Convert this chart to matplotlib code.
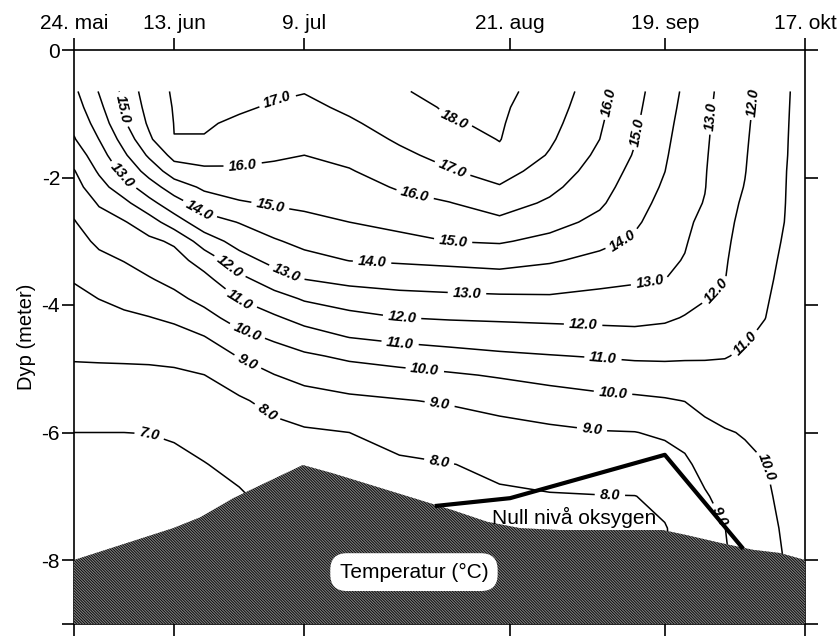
import numpy as np
import matplotlib
matplotlib.use('Agg')
import matplotlib.pyplot as plt

plt.rcParams['font.family'] = ['Liberation Sans', 'DejaVu Sans']
plt.rcParams['hatch.linewidth'] = 0.6
plt.rcParams['hatch.color'] = 'black'

# --- data -------------------------------------------------------------
# sampling grid: days after 24 May, depth (m)
day = [0, 5, 10, 15, 20, 26, 33, 40, 46, 55, 65, 75, 85, 95, 105, 112,
       118, 122, 126, 130, 134, 138, 142, 146]
depth = [0.65, 0.9, 1.15, 1.4, 1.65, 1.9, 2.15, 2.4, 2.7, 3.0, 3.3, 3.6,
         3.9, 4.2, 4.5, 4.8, 5.1, 5.5, 6.0, 6.5, 7.0, 7.5, 8.0, 9.0]
# temperature (deg C), one row per depth
temp = [
 [12.80,14.05,15.23,16.56,17.10,17.24,17.17,17.09,17.04,17.46,17.93,18.24,18.20,17.68,16.33,15.31,14.43,13.85,13.25,12.72,12.24,11.70,11.09,10.75],
 [12.52,13.76,15.10,16.35,17.06,17.15,17.07,16.94,16.77,17.17,17.66,18.11,18.14,17.50,16.22,15.22,14.35,13.77,13.21,12.66,12.20,11.65,11.08,10.73],
 [12.24,13.39,14.88,16.15,17.02,17.06,16.91,16.66,16.52,16.87,17.39,17.95,18.09,17.32,16.11,15.13,14.26,13.69,13.17,12.60,12.15,11.60,11.07,10.71],
 [11.93,13.01,14.37,15.84,16.99,16.97,16.58,16.39,16.26,16.56,17.12,17.62,18.03,17.14,16.00,15.05,14.18,13.61,13.14,12.54,12.11,11.55,11.06,10.69],
 [11.41,12.57,13.84,15.16,16.30,16.37,16.25,16.12,16.00,16.25,16.80,17.29,17.83,16.92,15.79,14.92,14.10,13.53,13.10,12.48,12.07,11.50,11.05,10.68],
 [10.94,12.13,13.27,14.36,15.52,15.83,15.88,15.80,15.73,15.94,16.44,16.93,17.38,16.58,15.57,14.73,14.01,13.44,13.06,12.42,12.03,11.46,11.03,10.66],
 [10.62,11.63,12.56,13.56,14.47,15.18,15.41,15.45,15.45,15.64,16.09,16.45,16.93,16.23,15.36,14.55,13.87,13.36,13.03,12.36,11.97,11.41,11.02,10.64],
 [10.30,11.09,11.75,12.70,13.60,14.47,14.91,15.10,15.18,15.35,15.72,15.97,16.42,15.86,15.14,14.36,13.72,13.28,12.96,12.30,11.87,11.36,11.01,10.62],
 [ 9.94,10.62,10.93,11.54,12.53,13.58,14.04,14.53,14.77,15.00,15.27,15.49,15.79,15.33,14.76,14.14,13.54,13.18,12.77,12.23,11.75,11.30,10.99,10.60],
 [ 9.64,10.18,10.48,10.80,11.14,12.49,13.38,13.90,14.26,14.51,14.74,15.01,15.09,14.75,14.25,13.86,13.37,13.08,12.59,12.16,11.64,11.24,10.94,10.57],
 [ 9.35, 9.77,10.03,10.37,10.64,11.39,12.59,13.30,13.68,14.02,14.12,14.23,14.35,14.10,13.75,13.48,13.19,12.95,12.41,12.09,11.52,11.19,10.88,10.55],
 [ 9.05, 9.39, 9.63, 9.93,10.25,10.73,11.72,12.50,12.99,13.27,13.40,13.49,13.59,13.49,13.25,13.11,13.01,12.62,12.23,12.02,11.41,11.13,10.83,10.53],
 [ 8.80, 9.01, 9.23, 9.44, 9.77,10.26,11.03,11.62,12.10,12.47,12.69,12.77,12.82,12.87,12.74,12.68,12.58,12.29,12.04,11.81,11.29,11.07,10.77,10.51],
 [ 8.56, 8.71, 8.84, 8.97, 9.16, 9.68,10.38,10.87,11.33,11.71,11.99,12.08,12.13,12.19,12.22,12.24,12.14,11.95,11.75,11.56,11.17,11.01,10.72,10.48],
 [ 8.32, 8.40, 8.48, 8.56, 8.67, 8.97, 9.73,10.16,10.57,11.03,11.27,11.40,11.50,11.56,11.66,11.72,11.65,11.53,11.41,11.30,11.06,10.89,10.66,10.46],
 [ 8.08, 8.10, 8.12, 8.15, 8.21, 8.47, 9.05, 9.55, 9.85,10.18,10.43,10.65,10.84,10.96,11.06,11.14,11.15,11.11,11.08,11.04,10.89,10.75,10.60,10.44],
 [ 7.81, 7.82, 7.82, 7.82, 7.86, 7.99, 8.45, 8.98, 9.30, 9.54, 9.70, 9.88,10.09,10.31,10.48,10.57,10.62,10.65,10.73,10.76,10.68,10.61,10.55,10.42],
 [ 7.45, 7.45, 7.46, 7.46, 7.52, 7.69, 7.89, 8.26, 8.58, 8.81, 8.95, 9.09, 9.32, 9.55, 9.75, 9.82, 9.92,10.02,10.26,10.38,10.40,10.42,10.47,10.39],
 [ 7.00, 7.00, 7.00, 7.01, 7.08, 7.31, 7.55, 7.75, 7.88, 8.00, 8.27, 8.48, 8.66, 8.81, 8.95, 8.98, 9.13, 9.32, 9.75, 9.94,10.05,10.19,10.38,10.35],
 [ 6.80, 6.80, 6.80, 6.80, 6.83, 6.97, 7.22, 7.40, 7.56, 7.74, 7.89, 7.98, 8.13, 8.28, 8.42, 8.47, 8.61, 8.83, 9.30, 9.61, 9.83, 9.98,10.29,10.31],
 [ 6.60, 6.60, 6.60, 6.60, 6.61, 6.76, 6.91, 7.25, 7.55, 7.63, 7.71, 7.84, 7.92, 7.96, 7.98, 7.99, 8.14, 8.52, 8.91, 9.29, 9.63, 9.87,10.20,10.27],
 [ 6.40, 6.40, 6.40, 6.40, 6.40, 6.64, 6.91, 7.25, 7.55, 7.63, 7.71, 7.78, 7.83, 7.87, 7.90, 7.93, 7.97, 8.20, 8.64, 8.99, 9.43, 9.77,10.10,10.24],
 [ 6.20, 6.25, 6.30, 6.35, 6.40, 6.64, 6.91, 7.25, 7.55, 7.63, 7.71, 7.78, 7.83, 7.87, 7.90, 7.93, 7.96, 8.14, 8.54, 8.92, 9.31, 9.69,10.03,10.20],
 [ 6.20, 6.25, 6.30, 6.35, 6.40, 6.64, 6.91, 7.25, 7.55, 7.63, 7.71, 7.78, 7.83, 7.87, 7.90, 7.93, 7.96, 8.14, 8.54, 8.92, 9.31, 9.69,10.03,10.20],
]
levels = [7, 8, 9, 10, 11, 12, 13, 14, 15, 16, 17, 18]

# lake bottom profile (days, depth m)
bottom_day = [0, 19.8, 25.2, 31.8, 45.7, 51.7, 69.1, 75.7, 82.5, 89.1, 97.1,
              117.6, 122.4, 129.0, 135.6, 141.0, 146]
bottom_depth = [-8.0, -7.5, -7.33, -7.03, -6.51, -6.64, -7.06, -7.22, -7.4,
                -7.5, -7.53, -7.53, -7.61, -7.73, -7.84, -7.89, -8.0]

# zero-oxygen level
oxy_day = [72.5, 87.1, 118.0, 133.4]
oxy_depth = [-7.15, -7.03, -6.35, -7.8]

tick_days = [0, 20, 46, 87, 118, 146]
tick_labels = ['24. mai', '13. jun', '9. jul', '21. aug', '19. sep', '17. okt']
ytick_vals = [0, -2, -4, -6, -8, -9]
ytick_labels = ['0', '-2', '-4', '-6', '-8', '']

# contour label placements (day, depth)
label_pos = [(9.39, -0.94), (9.39, -1.99), (40.74, -0.83), (33.75, -1.84), (24.77, -2.54),
             (39.15, -2.46), (31.16, -3.39), (42.14, -3.55), (33.15, -3.92), (34.55, -4.42),
             (34.55, -4.91), (39.15, -5.62), (15.18, -6.01), (75.69, -1.15), (75.49, -1.88),
             (68.10, -2.27), (75.69, -3.01), (59.52, -3.34), (78.49, -3.81), (65.51, -4.20),
             (65.11, -4.61), (70.10, -4.99), (73.10, -5.52), (73.10, -6.38), (106.65, -0.82),
             (113.04, -1.30), (110.05, -3.03), (127.62, -1.05), (115.04, -3.65), (135.61, -0.82),
             (101.66, -4.35), (130.42, -3.92), (105.65, -4.83), (135.61, -4.71), (107.65, -5.38),
             (138.41, -6.54), (103.46, -5.95), (129.62, -7.29), (107.05, -6.93)]

# --- plot -------------------------------------------------------------
fig = plt.figure(figsize=(8.4, 6.36), dpi=100)
ax = fig.add_axes([74/840, 1-623.75/636, 731/840, 573.75/636])

cs = ax.contour(np.array(day), -np.array(depth), np.array(temp), levels=levels,
                colors='k', linewidths=1.1, zorder=2)
txts = ax.clabel(cs, fmt='%.1f', fontsize=10.5, inline=True, manual=label_pos)
for t in txts:
    t.set_fontweight('bold')
    t.set_fontstyle('italic')

ax.fill_between(bottom_day, bottom_depth, -9.5, facecolor='#7e7e7e', edgecolor='black',
                hatch='\\' * 12, linewidth=0, zorder=4)
ax.plot(oxy_day, oxy_depth, color='k', lw=3, zorder=5)

ax.text(99.9, -7.33, 'Null nivå oksygen', fontsize=15, ha='center', va='center', zorder=6)
ax.text(67.9, -8.19, 'Temperatur (°C)', fontsize=15, ha='center', va='center', zorder=6,
        bbox=dict(boxstyle='round,pad=0.45,rounding_size=0.8', facecolor='white', edgecolor='none'))

ax.set_xlim(0, 146)
ax.set_ylim(-9, 0)
ax.set_xticks(tick_days)
ax.set_xticklabels(tick_labels)
ax.set_yticks(ytick_vals)
ax.set_yticklabels(ytick_labels)
ax.tick_params(axis='x', top=True, bottom=True, labeltop=True, labelbottom=False,
               direction='out', length=9, width=1.2, labelsize=15, pad=3)
ax.tick_params(axis='y', left=True, right=True, direction='out', length=9, width=1.2,
               labelsize=15, pad=1)
for s in ax.spines.values():
    s.set_linewidth(1.2)
ax.set_ylabel('Dyp (meter)', fontsize=14.5)
ax.yaxis.set_label_coords(-0.052, 0.5)

fig.savefig('out.png', dpi=100)
